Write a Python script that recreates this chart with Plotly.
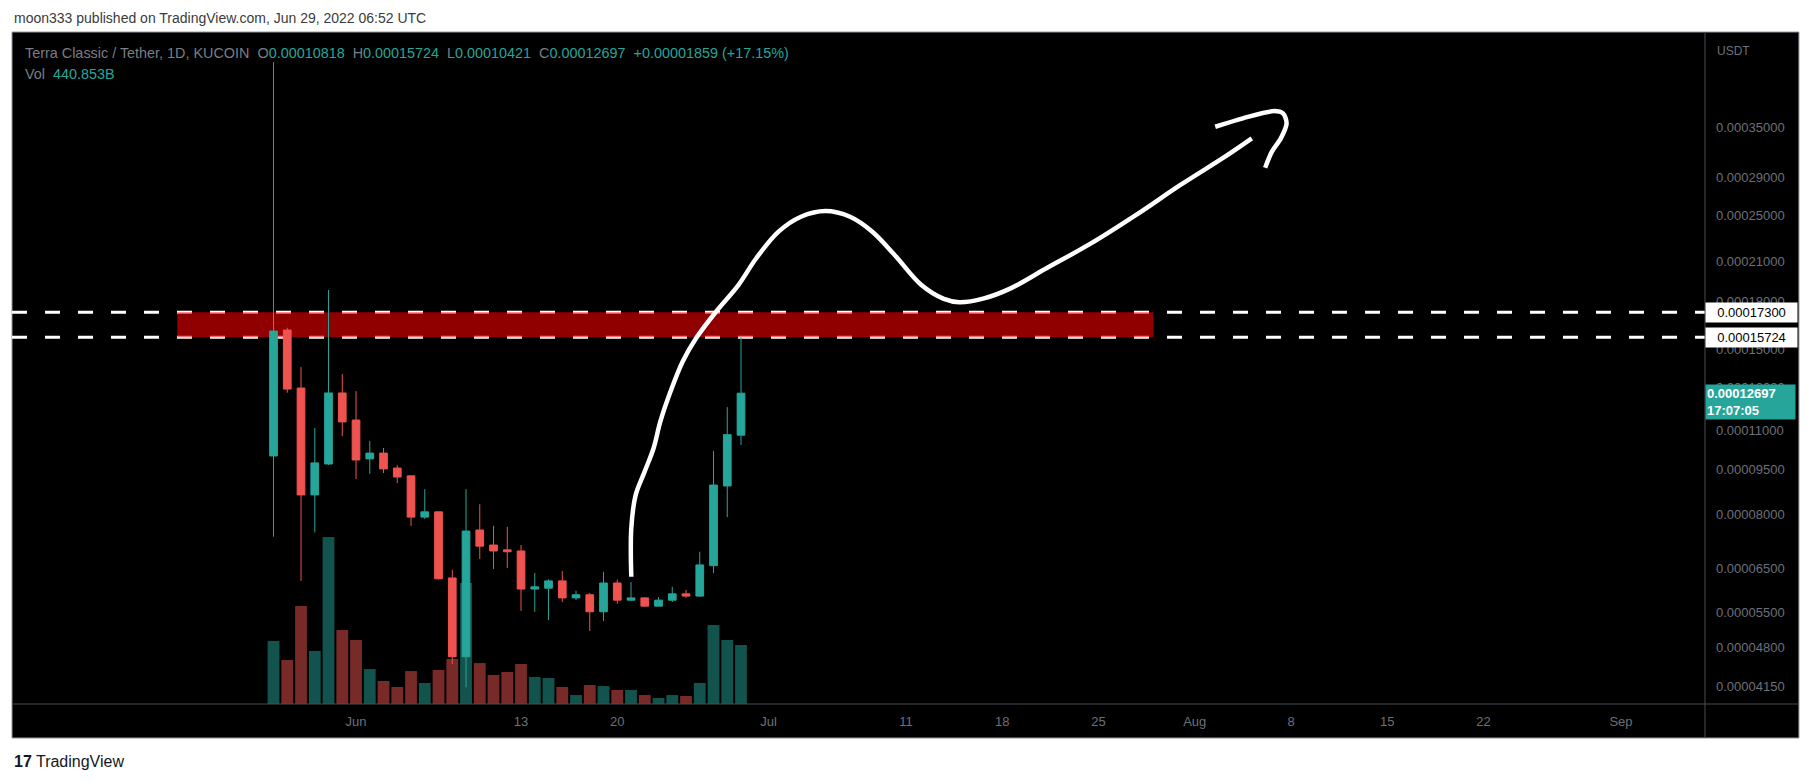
import math
import pandas as pd
import plotly.graph_objects as go

# daily LUNC/USDT candles, May 26 - Jun 29 2022
dates = pd.date_range("2022-05-26", "2022-06-29", freq="D")
opens = [0.0000999, 0.0001616, 0.0001295, 0.0000861, 0.0000969, 0.0001271, 0.0001146,
         0.0000988, 0.0001010, 0.0000954, 0.0000926, 0.0000791, 0.0000807, 0.0000627,
         0.0000464, 0.0000753, 0.0000711, 0.0000698, 0.0000695, 0.0000601, 0.0000603,
         0.0000620, 0.0000581, 0.0000588, 0.0000551, 0.0000615, 0.0000576, 0.0000581,
         0.0000563, 0.0000576, 0.0000590, 0.0000585, 0.0000657, 0.0000891, 0.00010818]
highs = [0.0004500, 0.0001630, 0.0001403, 0.0001112, 0.0001883, 0.0001366, 0.0001280,
         0.0001058, 0.0001030, 0.0000965, 0.0000926, 0.0000880, 0.0000807, 0.0000647,
         0.0000880, 0.0000831, 0.0000765, 0.0000762, 0.0000711, 0.0000639, 0.0000624,
         0.0000644, 0.0000597, 0.0000592, 0.0000642, 0.0000623, 0.0000617, 0.0000583,
         0.0000583, 0.0000606, 0.0000599, 0.0000693, 0.0001018, 0.0001204, 0.00015724]
lows = [0.0000734, 0.0001272, 0.0000620, 0.0000746, 0.0000965, 0.0001078, 0.0000915,
        0.0000933, 0.0000936, 0.0000901, 0.0000765, 0.0000785, 0.0000623, 0.0000451,
        0.0000413, 0.0000674, 0.0000649, 0.0000651, 0.0000553, 0.0000551, 0.0000534,
        0.0000572, 0.0000576, 0.0000512, 0.0000532, 0.0000568, 0.0000574, 0.0000563,
        0.0000563, 0.0000572, 0.0000581, 0.0000583, 0.0000639, 0.0000791, 0.00010421]
closes = [0.0001610, 0.0001290, 0.0000861, 0.0000973, 0.0001271, 0.0001138, 0.0000984,
          0.0001010, 0.0000951, 0.0000922, 0.0000791, 0.0000807, 0.0000625, 0.0000464,
          0.0000750, 0.0000708, 0.0000695, 0.0000693, 0.0000601, 0.0000606, 0.0000620,
          0.0000581, 0.0000588, 0.0000551, 0.0000615, 0.0000576, 0.0000581, 0.0000563,
          0.0000576, 0.0000590, 0.0000585, 0.0000659, 0.0000894, 0.00010838, 0.00012697]
volume_b = [471, 329, 732, 396, 1248, 553, 478, 261, 172, 127, 246, 157, 254, 336, 904,
            306, 217, 239, 299, 202, 194, 127, 67, 142, 134, 105, 105, 67, 45, 67, 60,
            157, 590, 478, 440.853]

# hand drawn arrow (days after Jun 1, price)
curve_days = [20.02, 20.02, 20.34, 20.99, 21.64, 22.13, 22.78, 23.75, 24.73, 26.18, 27.81,
              29.11, 30.73, 32.36, 34.14, 35.93, 37.55, 39.17, 41.12, 42.75, 43.88, 45.67,
              47.61, 50.21, 53.45, 56.71, 59.96, 63.20, 65.15]
curve_price = [0.0000630, 0.0000758, 0.0000861, 0.0000941, 0.0001029, 0.0001139, 0.0001261,
               0.0001432, 0.0001566, 0.0001733, 0.0001919, 0.0002126, 0.0002353, 0.0002491,
               0.0002546, 0.0002491, 0.0002353, 0.0002153, 0.0001919, 0.0001820, 0.0001797,
               0.0001824, 0.0001895, 0.0002046, 0.0002250, 0.0002507, 0.0002813, 0.0003134,
               0.0003361]
head_days = [62.49, 64.50, 66.77, 67.42, 67.68, 67.26, 66.61, 66.12]
head_price = [0.0003513, 0.0003628, 0.0003731, 0.0003698, 0.0003559, 0.0003361, 0.0003194,
              0.0003004]

zone_start = "2022-05-19"
zone_end = "2022-07-29"
zone_top = 0.000173
zone_bottom = 0.00015724
last_close = 0.00012697

price_ticks = [0.0000415, 0.000048, 0.000055, 0.000065, 0.00008, 0.000095, 0.00011,
               0.00013, 0.00015, 0.00018, 0.00021, 0.00025, 0.00029, 0.00035]
date_ticks = ["2022-06-01", "2022-06-13", "2022-06-20", "2022-07-01", "2022-07-11",
              "2022-07-18", "2022-07-25", "2022-08-01", "2022-08-08", "2022-08-15",
              "2022-08-22", "2022-09-01"]
date_labels = ["Jun", "13", "20", "Jul", "11", "18", "25", "Aug", "8", "15", "22", "Sep"]

UP = "#26a69a"
DOWN = "#ef5350"
AXIS_TXT = "#6d707a"
FONT = "Liberation Sans, Arial, sans-serif"

day0 = pd.Timestamp("2022-06-01")
curve_x = day0 + pd.to_timedelta(curve_days, unit="D")
head_x = day0 + pd.to_timedelta(head_days, unit="D")

vol_colors = ["rgba(38,166,154,0.5)" if c >= o else "rgba(239,83,80,0.5)"
              for o, c in zip(opens, closes)]

fig = go.Figure()

fig.add_trace(go.Bar(
    x=dates, y=volume_b, marker_color=vol_colors, marker_line_width=0,
    width=0.86 * 86400000, yaxis="y", hoverinfo="skip"
))

fig.add_trace(go.Candlestick(
    x=dates, open=opens, high=highs, low=lows, close=closes, yaxis="y2",
    increasing=dict(line=dict(color=UP, width=1), fillcolor=UP),
    decreasing=dict(line=dict(color=DOWN, width=1), fillcolor=DOWN),
    hoverinfo="skip"
))

fig.add_trace(go.Scatter(
    x=curve_x, y=curve_price, yaxis="y2", mode="lines",
    line=dict(color="white", width=4.5, shape="spline", smoothing=1.0),
    hoverinfo="skip"
))
fig.add_trace(go.Scatter(
    x=head_x, y=head_price, yaxis="y2", mode="lines",
    line=dict(color="white", width=4.5, shape="spline", smoothing=0.8),
    hoverinfo="skip"
))

shapes = [
    # whole dark panel
    dict(type="rect", xref="paper", yref="paper", x0=0, x1=1.0555, y0=-0.0506, y1=1,
         fillcolor="black", line=dict(color="#9598a1", width=1), layer="below"),
    # dashed levels
    dict(type="line", xref="paper", yref="y2", x0=0, x1=1, y0=zone_top, y1=zone_top,
         line=dict(color="white", width=3, dash="15px,18px"), layer="below"),
    dict(type="line", xref="paper", yref="y2", x0=0, x1=1, y0=zone_bottom, y1=zone_bottom,
         line=dict(color="white", width=3, dash="15px,18px"), layer="below"),
    # resistance zone
    dict(type="rect", xref="x", yref="y2", x0=zone_start, x1=zone_end,
         y0=zone_bottom, y1=zone_top, fillcolor="rgba(255,0,0,0.57)", line_width=0,
         layer="below"),
    # axis separators
    dict(type="line", xref="paper", yref="paper", x0=0, x1=1.0555, y0=0, y1=0,
         line=dict(color="#4a4d55", width=1)),
    dict(type="line", xref="paper", yref="paper", x0=1, x1=1, y0=-0.0506, y1=1,
         line=dict(color="#4a4d55", width=1)),
]

annotations = [
    dict(xref="paper", yref="paper", x=0, y=1, xanchor="left", yanchor="middle",
         yshift=14, showarrow=False,
         text="moon333 published on TradingView.com, Jun 29, 2022 06:52 UTC",
         font=dict(family=FONT, size=14, color="#3b3b3b")),
    dict(xref="paper", yref="paper", x=0, y=1, xanchor="left", yanchor="middle",
         xshift=11, yshift=-21, showarrow=False,
         text=("Terra Classic / Tether, 1D, KUCOIN  O<span style='color:%s'>0.00010818</span>"
               "  H<span style='color:%s'>0.00015724</span>  L<span style='color:%s'>0.00010421</span>"
               "  C<span style='color:%s'>0.00012697  +0.00001859 (+17.15%%)</span>")
              % (UP, UP, UP, UP),
         font=dict(family=FONT, size=14.4, color="#7a7d86")),
    dict(xref="paper", yref="paper", x=0, y=1, xanchor="left", yanchor="middle",
         xshift=11, yshift=-42, showarrow=False,
         text="Vol  <span style='color:%s'>440.853B</span>" % UP,
         font=dict(family=FONT, size=14.4, color="#7a7d86")),
    dict(xref="paper", yref="paper", x=1, y=1, xanchor="left", yanchor="middle",
         xshift=10, yshift=-19, showarrow=False, text="USDT",
         font=dict(family=FONT, size=12, color=AXIS_TXT)),
    dict(xref="paper", yref="y2", x=1, y=math.log10(zone_top), xanchor="left",
         yanchor="middle", xshift=0, showarrow=False, text="0.00017300", bgcolor="white",
         width=87, borderpad=2, align="center",
         font=dict(family=FONT, size=13, color="black")),
    dict(xref="paper", yref="y2", x=1, y=math.log10(zone_bottom), xanchor="left",
         yanchor="middle", xshift=0, showarrow=False, text="0.00015724", bgcolor="white",
         width=87, borderpad=2, align="center",
         font=dict(family=FONT, size=13, color="black")),
    dict(xref="paper", yref="y2", x=1, y=math.log10(last_close), xanchor="left",
         yanchor="top", xshift=0, yshift=9, showarrow=False,
         text="<b>0.00012697</b><br><b>17:07:05</b>", bgcolor=UP,
         width=87, borderpad=1, align="left",
         font=dict(family=FONT, size=13, color="white")),
    dict(xref="paper", yref="paper", x=0, y=0, xanchor="left", yanchor="middle",
         yshift=-57, showarrow=False,
         text="<b>17</b> TradingView",
         font=dict(family=FONT, size=16, color="#131722")),
]

# the page body adds an 8px offset, so the margins are trimmed by that much
fig.update_layout(
    width=1813, height=783,
    margin=dict(l=4, r=116, t=24, b=87),
    paper_bgcolor="white", plot_bgcolor="black",
    showlegend=False, hovermode=False, boxgap=0.2,
    shapes=shapes, annotations=annotations,
    xaxis=dict(
        type="date", range=["2022-05-06 23:31", "2022-09-07 02:38"],
        tickvals=date_ticks, ticktext=date_labels, showgrid=False, zeroline=False,
        rangeslider=dict(visible=False), ticks="", ticklabelstandoff=8,
        tickfont=dict(family=FONT, size=13, color=AXIS_TXT), fixedrange=True
    ),
    yaxis=dict(range=[0, 5020], visible=False, fixedrange=True),
    yaxis2=dict(
        overlaying="y", side="right", type="log",
        range=[math.log10(0.00003874), math.log10(0.0005045)],
        tickvals=price_ticks, ticktext=["%.8f" % v for v in price_ticks],
        showgrid=False, zeroline=False, ticks="", ticklabelstandoff=10,
        tickfont=dict(family=FONT, size=13, color=AXIS_TXT), fixedrange=True
    ),
)

fig.write_html("out.html")
